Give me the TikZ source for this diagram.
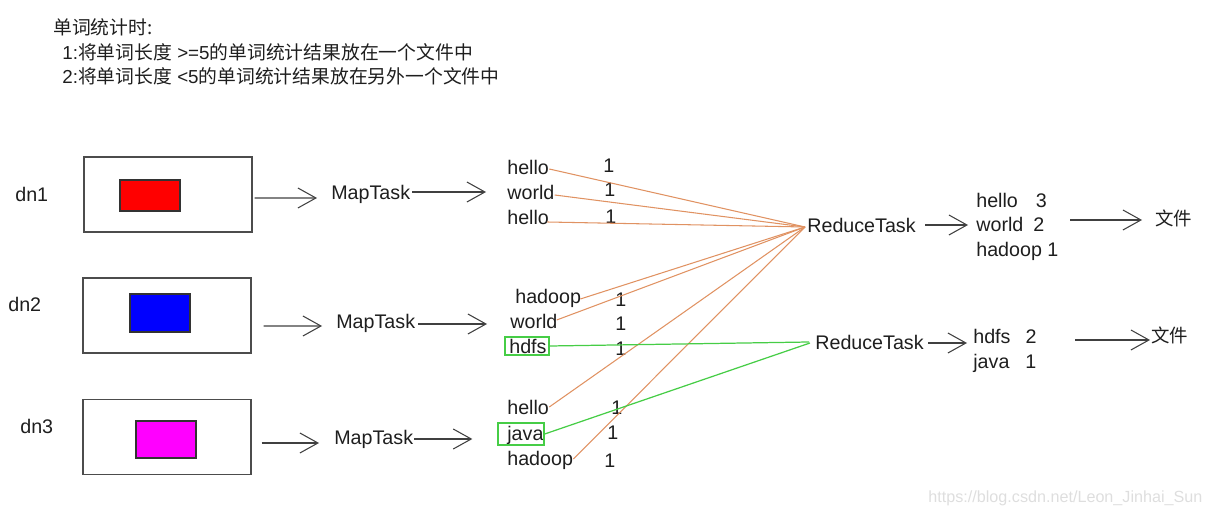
\documentclass[tikz,border=0pt]{standalone}
\usepackage{fontspec}
\setmainfont{Liberation Sans}
\newfontfamily\cjk{Noto Sans CJK SC}
\usetikzlibrary{arrows.meta}
\definecolor{olin}{RGB}{224,146,98}
\definecolor{glin}{RGB}{70,205,70}
\definecolor{ink}{RGB}{30,30,30}
\definecolor{fred}{RGB}{255,0,0}
\definecolor{fblue}{RGB}{0,0,255}
\definecolor{fmag}{RGB}{255,0,255}
\begin{document}
\begin{tikzpicture}[x=0.02cm,y=-0.02cm,
  txt/.style={anchor=west,inner sep=0pt,font=\fontsize{11.2}{13}\selectfont,text=ink,text height=0.72em,text depth=0em},
  ttl/.style={anchor=west,inner sep=0pt,font=\fontsize{10.7}{12}\selectfont,text=ink},
  hostbox/.style={draw=black!70,line width=0.6pt,minimum width=3.36cm,minimum height=1.5cm,inner sep=0pt},
  blk/.style={draw=black!80,line width=0.6pt,minimum width=1.2cm,inner sep=0pt},
  arr/.style={draw=black!75,line width=0.6pt,-{Straight Barb[length=0.36cm,width=0.4cm,line width=0.6pt]}},
  oline/.style={draw=olin,line width=0.6pt},
  gline/.style={draw=glin,line width=0.7pt},
  gbox/.style={draw=glin,line width=0.8pt,inner sep=0pt}]
\useasboundingbox (0,0) rectangle (1206,516);
% title
\node[ttl] (t1) at (53,27) {\cjk 单词统计时:};
\node[ttl] (t2) at (62,52) {1:{\cjk 将单词长度} >=5{\cjk 的单词统计结果放在一个文件中}};
\node[ttl] (t3) at (62,76) {2:{\cjk 将单词长度} <5{\cjk 的单词统计结果放在另外一个文件中}};
% hosts
\node[txt] (dn1) at (15,195) {dn1};
\node[txt] (dn2) at (8,305) {dn2};
\node[txt] (dn3) at (20,427) {dn3};
\node[hostbox] (b1) at (168,194.5) {};
\node[hostbox] (b2) at (167,315.5) {};
\node[hostbox] (b3) at (167,437) {};
\node[blk,fill=fred,minimum height=0.62cm] (k1) at (150,195.5) {};
\node[blk,fill=fblue,minimum height=0.76cm] (k2) at (160,313) {};
\node[blk,fill=fmag,minimum height=0.74cm] (k3) at (166,439.5) {};
% map tasks
\node[txt] (m1) at (331,193) {MapTask};
\node[txt] (m2) at (336,322) {MapTask};
\node[txt] (m3) at (334,438) {MapTask};
\draw[arr] ([shift={(2,3.5)}]b1.east) -- ([shift={(-14,5)}]m1.west);
\draw[arr] ([shift={(12,10.5)}]b2.east) -- ([shift={(-14,4)}]m2.west);
\draw[arr] ([shift={(10,6)}]b3.east) -- ([shift={(-15,5)}]m3.west);
% words
\node[txt] (w1) at (507,168) {hello};
\node[txt] (w2) at (507,193) {world};
\node[txt] (w3) at (507,218) {hello};
\node[txt] (w4) at (515,297) {hadoop};
\node[txt] (w5) at (510,322) {world};
\node[txt] (w6) at (509,347) {hdfs};
\node[txt] (w7) at (507,408) {hello};
\node[txt] (w8) at (507,434) {java};
\node[txt] (w9) at (507,459) {hadoop};
\node[gbox,minimum width=0.88cm,minimum height=0.36cm] (g6) at (527,346) {};
\node[gbox,minimum width=0.92cm,minimum height=0.44cm] (g8) at (521,434) {};
\node[txt] (n1) at (603,166) {1};
\node[txt] (n2) at (604,190) {1};
\node[txt] (n3) at (605,217) {1};
\node[txt] (n4) at (615,300) {1};
\node[txt] (n5) at (615,324) {1};
\node[txt] (n6) at (615,349) {1};
\node[txt] (n7) at (611,408) {1};
\node[txt] (n8) at (607,433) {1};
\node[txt] (n9) at (604,461) {1};
\draw[arr] ([shift={(2,-1)}]m1.east) -- ([shift={(-21,-1)}]w2.west);
\draw[arr] ([shift={(3,2)}]m2.east) -- ([shift={(-23,2)}]w5.west);
\draw[arr] ([shift={(1,1)}]m3.east) -- ([shift={(-25,5)}]g8.west);
% reduce tasks
\node[txt] (r1) at (807,226) {ReduceTask};
\node[txt] (r2) at (815,343) {ReduceTask};
\coordinate (c1) at (805,227);
\coordinate (c2) at (809,342);
\draw[oline] ([shift={(0,1)}]w1.east) -- (c1);
\draw[oline] ([shift={(0,2)}]w2.east) -- (c1);
\draw[oline] ([shift={(-2,4)}]w3.east) -- (c1);
\draw[oline] ([shift={(-1,2)}]w4.east) -- (c1);
\draw[oline] ([shift={(-1,-2)}]w5.east) -- (c1);
\draw[oline] ([shift={(0,-1)}]w7.east) -- (c1);
\draw[oline] ([shift={(0,0)}]w9.east) -- (c1);
\draw[gline] (g6.east) -- (c2);
\draw[gline] (g8.east) -- ([shift={(1,1)}]c2);
% results
\node[txt] (s1) at (976,201) {hello\hspace{0.36cm}3};
\node[txt] (s2) at (976,225) {world\hspace{0.2cm}2};
\node[txt] (s3) at (976,250) {hadoop 1};
\node[txt] (s4) at (973,337) {hdfs\hspace{0.3cm}2};
\node[txt] (s5) at (973,362) {java\hspace{0.32cm}1};
\draw[arr] ([shift={(9,-1)}]r1.east) -- ([shift={(-8,0)}]s2.west);
\draw[arr] ([shift={(4,0)}]r2.east) -- ([shift={(-6,6)}]s4.west);
\node[ttl,font=\cjk\fontsize{10.5}{12}\selectfont] (f1) at (1155,218) {文件};
\node[ttl,font=\cjk\fontsize{10.5}{12}\selectfont] (f2) at (1151,335) {文件};
\coordinate (a1) at (1070,220);
\coordinate (a2) at (1075,340);
\draw[arr] (a1) -- ([shift={(-13,2)}]f1.west);
\draw[arr] (a2) -- ([shift={(-1,5)}]f2.west);
% watermark
\node[anchor=west,inner sep=0pt,font=\fontsize{9.2}{11}\selectfont,text=black!13] (wm) at (928,498) {https://blog.csdn.net/Leon\_Jinhai\_Sun};
\end{tikzpicture}
\end{document}
